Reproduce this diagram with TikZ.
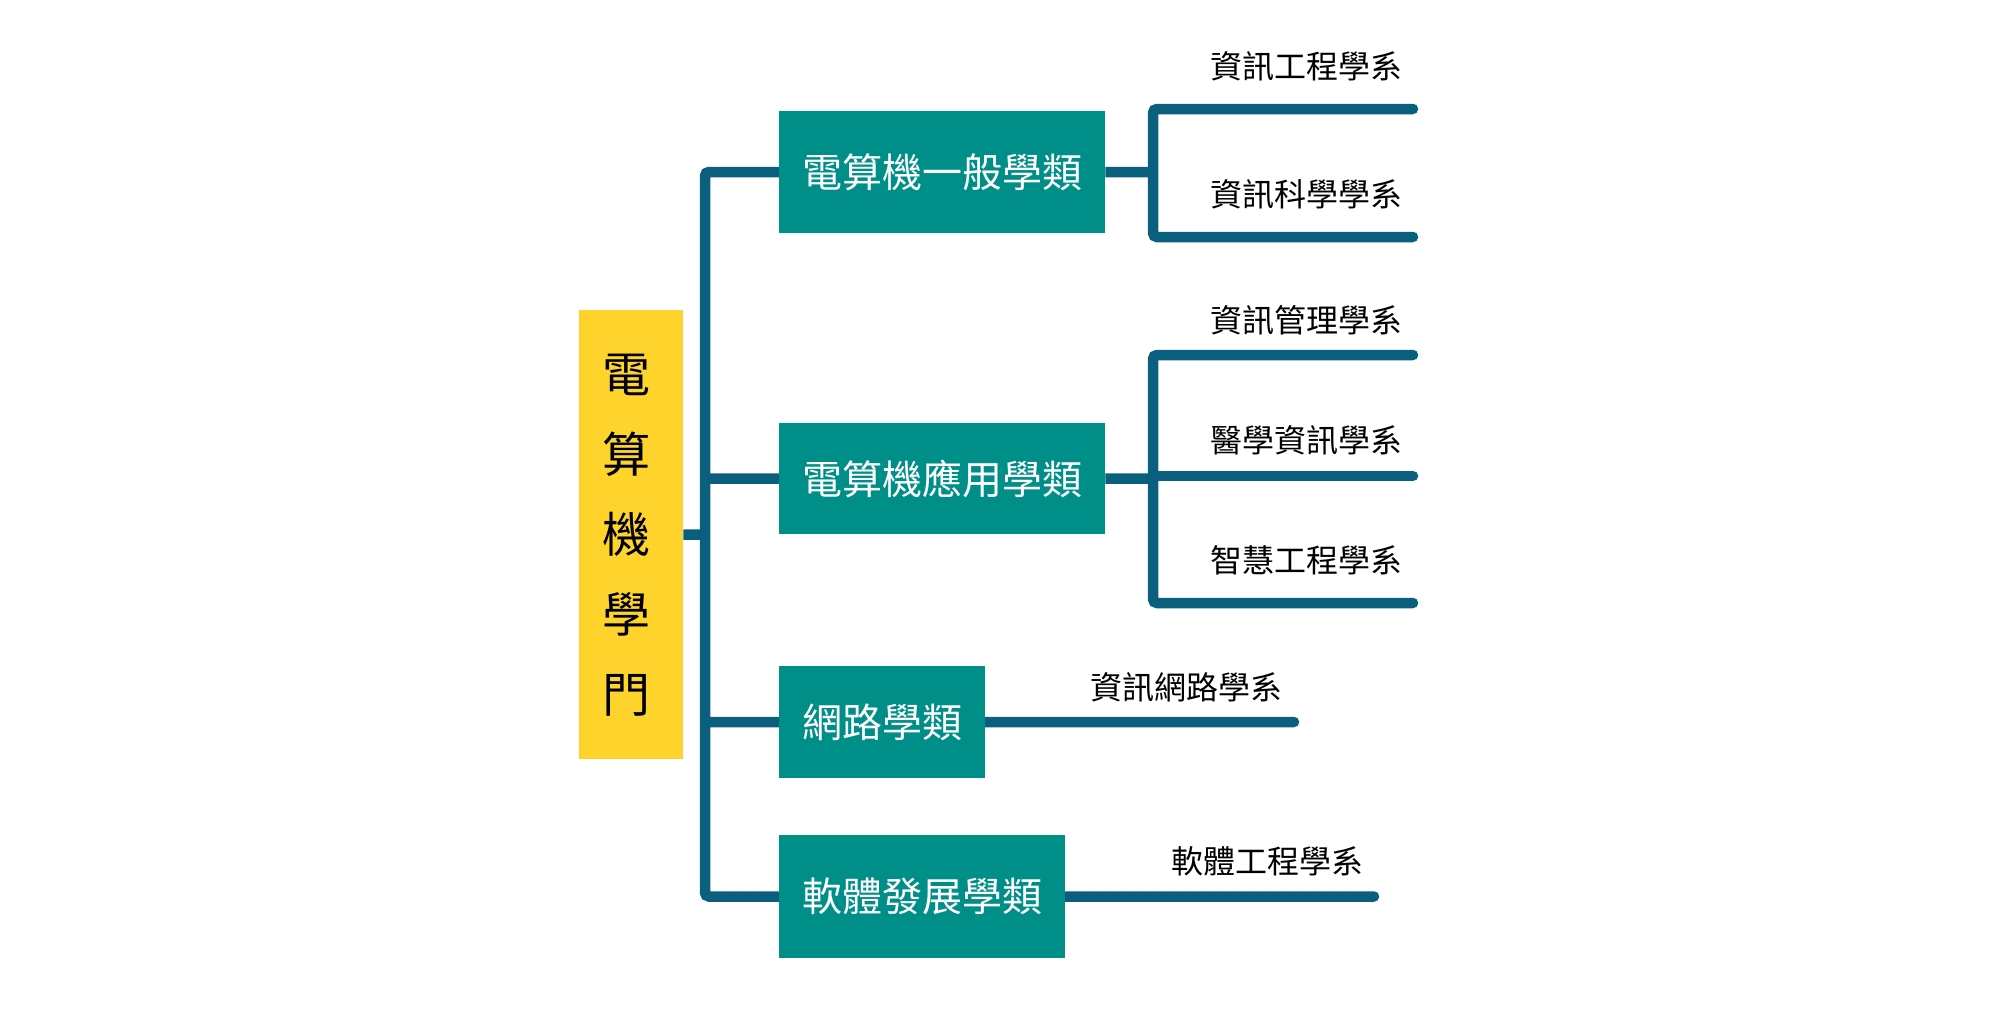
\documentclass[tikz,border=0pt]{standalone}
\usepackage{fontspec}
\usetikzlibrary{backgrounds}
\newfontfamily\cjk{Noto Sans CJK TC}
\definecolor{teal1}{HTML}{008F88}
\definecolor{bar}{HTML}{0A5E7E}
\definecolor{gold}{HTML}{FDD32C}
\begin{document}
\begin{tikzpicture}[x=1pt,y=-1pt,
  catbox/.style={fill=teal1,draw=none,inner sep=0,minimum height=#1,anchor=north west},
  cattext/.style={inner sep=0,text=white,font=\cjk\fontsize{40}{40}\selectfont},
  dept/.style={inner sep=0,font=\cjk\fontsize{32}{32}\selectfont,text=black},
  conn/.style={draw=bar,line width=10.5pt,line cap=round,rounded corners=4pt},
  stub/.style={draw=bar,line width=10.5pt}]
\useasboundingbox (0,0) rectangle (2000,1009);
% root
\node[fill=gold,inner sep=0,minimum width=104,minimum height=449,anchor=north west] (root) at (579,310) {};
\node[align=center,inner sep=0,font=\cjk\fontsize{48}{80}\selectfont] (roottxt) at ([xshift=-5pt,yshift=-1pt]root.center) {電\\算\\機\\學\\門};
% categories
\node[catbox=122,minimum width=326] (c1) at (779,111) {};
\node[cattext] (c1t) at (c1.center) {電算機一般學類};
\node[catbox=111,minimum width=326] (c2) at (779,423) {};
\node[cattext] (c2t) at (c2.center) {電算機應用學類};
\node[catbox=112,minimum width=206] (c3) at (779,666) {};
\node[cattext] (c3t) at (c3.center) {網路學類};
\node[catbox=123,minimum width=286] (c4) at (779,835) {};
\node[cattext] (c4t) at (c4.center) {軟體發展學類};
% endpoints
\coordinate (tj) at (705,534.5);
\coordinate (b1a) at (1413,109);
\coordinate (b1b) at (1413,237);
\coordinate (b2a) at (1413,355);
\coordinate (b2m) at (1413,476);
\coordinate (b2b) at (1413,603);
\coordinate (e3) at (1294,722);
\coordinate (e4) at (1374,896.5);
\begin{scope}[on background layer]
\draw[stub] (root.east) -- (tj);
\draw[conn] (c1.west) -- (705,172) -- (705,896.5) -- (c4.west);
\draw[stub] (705,478.5) -- (c2.west);
\draw[stub] (705,722) -- (c3.west);
\draw[conn] (b1a) -- (1153,109) -- (1153,237) -- (b1b);
\draw[stub] (c1.east) -- (1153,172);
\draw[conn] (b2a) -- (1153,355) -- (1153,603) -- (b2b);
\draw[conn] (1153,476) -- (b2m);
\draw[stub] (c2.east) -- (1153,478.5);
\draw[conn] (c3.east) -- (e3);
\draw[conn] (c4.east) -- (e4);
\end{scope}
% department labels
\node[dept] (d1) at (1306,66) {資訊工程學系};
\node[dept] (d2) at (1306,194) {資訊科學學系};
\node[dept] (d3) at (1306,320) {資訊管理學系};
\node[dept] (d4) at (1306,440) {醫學資訊學系};
\node[dept] (d5) at (1306,560) {智慧工程學系};
\node[dept] (d6) at (1186,687) {資訊網路學系};
\node[dept] (d7) at (1267,861) {軟體工程學系};
\end{tikzpicture}
\end{document}
